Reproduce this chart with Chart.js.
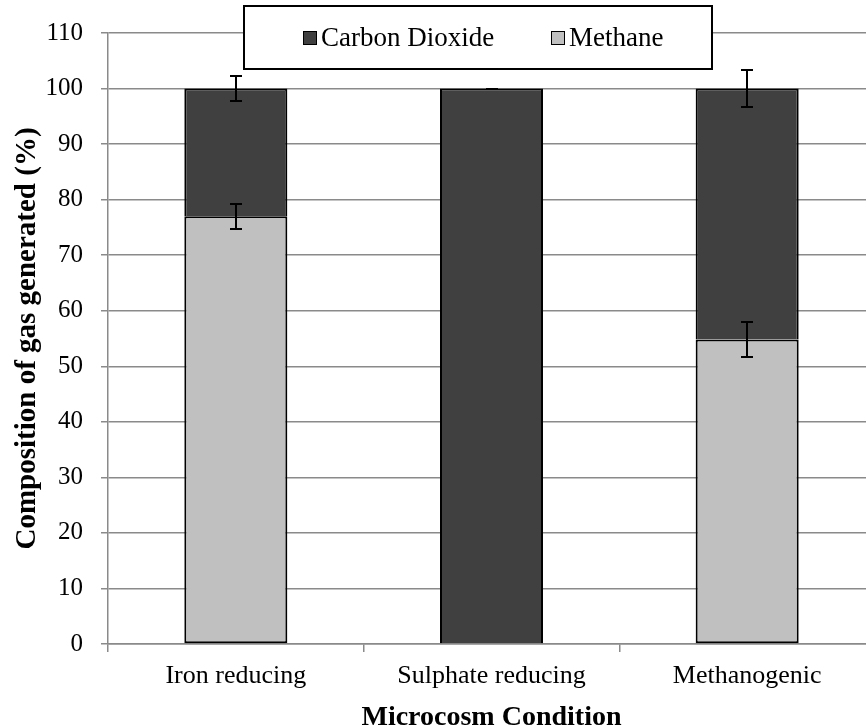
<!DOCTYPE html>
<html>
<head>
<meta charset="utf-8">
<script src="https://cdn.jsdelivr.net/npm/chart.js@4/dist/chart.umd.min.js"></script>
<style>
  html, body { margin: 0; padding: 0; overflow: hidden; background: #ffffff; }
  canvas { display: block; }
</style>
</head>
<body>
<canvas id="chart" width="875" height="728" style="width:875px;height:728px"></canvas>
<script>
// Gas composition per microcosm condition (%), stacked: methane below, carbon dioxide above
const categories = ['Iron reducing', 'Sulphate reducing', 'Methanogenic'];
const methane = [77, 0, 54.8];
const carbonDioxide = [23, 100, 45.2];
// Error bar half-lengths (%), drawn at the top of each stacked segment
const methaneErr = [2.2, null, 3.2];
const carbonDioxideErr = [2.3, 0, 3.3];
const yTicks = [0, 10, 20, 30, 40, 50, 60, 70, 80, 90, 100, 110];

const SERIF = '"Liberation Serif", "Times New Roman", serif';
const GRID = '#8a8a8a';
const CO2_FILL = '#404040';
const CH4_FILL = '#c0c0c0';

// Error bars for stacked segments
const errorBars = {
  id: 'errorBars',
  afterDatasetsDraw(chart) {
    const y = chart.scales.y;
    const ctx = chart.ctx;
    const errs = [methaneErr, carbonDioxideErr];
    const stacks = [methane, carbonDioxide];
    ctx.save();
    ctx.strokeStyle = '#000000';
    ctx.lineWidth = 2;
    chart.data.datasets.forEach((ds, di) => {
      const meta = chart.getDatasetMeta(di);
      meta.data.forEach((bar, i) => {
        const e = errs[di][i];
        if (e === null || e === undefined) return;
        let top = 0;
        for (let k = 0; k <= di; k++) top += stacks[k][i];
        const yHi = Math.round(y.getPixelForValue(top + e));
        const yLo = Math.round(y.getPixelForValue(top - e));
        const x = Math.round(bar.x);
        const cap = 6;
        ctx.beginPath();
        ctx.moveTo(x, yHi); ctx.lineTo(x, yLo);
        ctx.moveTo(x - cap, yHi); ctx.lineTo(x + cap, yHi);
        ctx.moveTo(x - cap, yLo); ctx.lineTo(x + cap, yLo);
        ctx.stroke();
      });
    });
    ctx.restore();
  }
};

// Boxed legend overlapping the top of the plot
const boxLegend = {
  id: 'boxLegend',
  afterDraw(chart) {
    const ctx = chart.ctx;
    const box = { x: 244, y: 6, w: 468, h: 63 };
    ctx.save();
    ctx.fillStyle = '#ffffff';
    ctx.fillRect(box.x, box.y, box.w, box.h);
    ctx.strokeStyle = '#000000';
    ctx.lineWidth = 2;
    ctx.strokeRect(box.x, box.y, box.w, box.h);
    const items = [
      { ds: chart.data.datasets[1], x: 303 },
      { ds: chart.data.datasets[0], x: 551 }
    ];
    ctx.font = '27px ' + SERIF;
    ctx.textBaseline = 'middle';
    ctx.textAlign = 'left';
    const cy = 38;
    items.forEach(it => {
      ctx.fillStyle = it.ds.backgroundColor;
      ctx.fillRect(it.x, cy - 7, 14, 14);
      ctx.strokeStyle = '#000000';
      ctx.lineWidth = 1;
      ctx.strokeRect(it.x + 0.5, cy - 6.5, 13, 13);
      ctx.fillStyle = '#000000';
      ctx.fillText(it.ds.label, it.x + 18, cy + 1);
    });
    ctx.restore();
  }
};

new Chart(document.getElementById('chart'), {
  type: 'bar',
  data: {
    labels: categories,
    datasets: [
      {
        label: 'Methane',
        data: methane,
        backgroundColor: CH4_FILL,
        borderColor: '#000000',
        borderWidth: 2,
        borderSkipped: false
      },
      {
        label: 'Carbon Dioxide',
        data: carbonDioxide,
        backgroundColor: CO2_FILL,
        borderColor: '#000000',
        borderWidth: 2,
        borderSkipped: 'bottom'
      }
    ]
  },
  options: {
    responsive: false,
    animation: false,
    devicePixelRatio: 1,
    categoryPercentage: 1,
    barPercentage: 0.403,
    layout: { padding: { top: 32, right: 0, bottom: 0, left: 0 } },
    plugins: {
      legend: { display: false },
      tooltip: { enabled: false }
    },
    scales: {
      x: {
        stacked: true,
        offset: true,
        grid: {
          offset: true,
          drawOnChartArea: false,
          drawTicks: true,
          tickLength: 8,
          color: GRID,
          lineWidth: 1.5
        },
        border: { display: true, color: GRID, width: 1.5 },
        ticks: {
          color: '#000000',
          font: { family: SERIF, size: 26 },
          padding: 9,
          maxRotation: 0
        },
        title: {
          display: true,
          text: 'Microcosm Condition',
          color: '#000000',
          font: { family: SERIF, size: 28, weight: 'bold', lineHeight: 0.8 },
          padding: { top: 0, bottom: -1 }
        },
        afterFit(scale) { scale.height = 84; }
      },
      y: {
        stacked: true,
        min: 0,
        max: 110,
        afterBuildTicks(scale) { scale.ticks = yTicks.map(v => ({ value: v })); },
        grid: {
          color: GRID,
          lineWidth: 1.5,
          drawTicks: true,
          tickLength: 7
        },
        border: { display: true, color: GRID, width: 1.5 },
        ticks: {
          color: '#000000',
          font: { family: SERIF, size: 25 },
          padding: 18
        },
        title: {
          display: true,
          text: 'Composition of gas generated (%)',
          color: '#000000',
          font: { family: SERIF, size: 29, weight: 'bold', lineHeight: 1.2 },
          padding: { top: 10, bottom: 0 }
        },
        afterFit(scale) { scale.width = 108; }
      }
    }
  },
  plugins: [errorBars, boxLegend]
});
</script>
</body>
</html>
